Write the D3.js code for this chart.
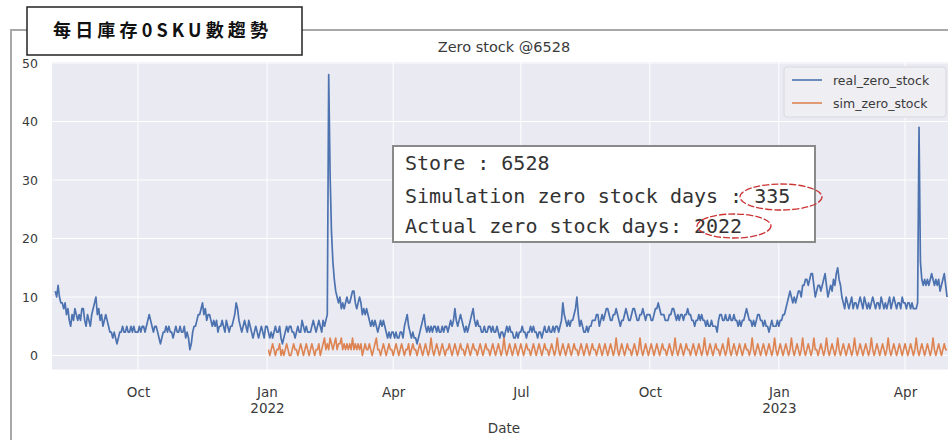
<!DOCTYPE html>
<html><head><meta charset="utf-8">
<script src="https://cdn.jsdelivr.net/npm/d3@7"></script>
<style>
html,body{margin:0;padding:0;background:#fff;}
svg{display:block;}
</style></head>
<body>
<svg id="chart" width="948" height="440"></svg>
<script>
// ---------------- DATA ----------------
const figureTitle = "每日庫存0SKU數趨勢";
const chartTitle = "Zero stock @6528";
const xLabel = "Date";
const seriesNames = ["real_zero_stock", "sim_zero_stock"];
const infoLines = ["Store : 6528", "Simulation zero stock days : 335", "Actual zero stock days: 2022"];
const yTicks = [0, 10, 20, 30, 40, 50];
const xTickDates = ["2021-10-01", "2022-01-01", "2022-04-01", "2022-07-01", "2022-10-01", "2023-01-01", "2023-04-01"];

// real_zero_stock, daily from 2021-08-03
const realStart2021 = "2021-08-03";
const realZero2021 = [
 11,10,12,10,9,9,8,9,7,8, 6,5,7,6,8,7,6,7,6,8, 8,6,5,7,6,5,7,8,9,
 10,7,8,6,7,5,6,7,6,5, 4,4,3,4,3,2,3,4,4,5, 4,4,5,4,4,5,4,5,4,4,
 4,5,4,5,5,4,5,6,7,6, 5,4,5,5,4,3,2,3,4,4, 5,4,5,4,4,3,4,5,4,4, 5,
 4,4,5,3,4,3,1,2,4,5, 5,6,7,7,8,9,7,8,6,7, 7,6,5,6,5,6,4,5,5,6,
 5,4,6,5,4,5,5,6,7,9, 8,6,5,4,5,6,5,4,6,5, 4,3,4,5,4,3,4,5,4,3, 5
];
const realStart2022 = "2022-01-01";
const realZero2022 = [
 5,4,3,4,3,4,5,4,4,5, 3,2,3,4,5,4,5,5,4,4, 3,4,5,4,4,6,5,4,5,4, 4,
 4,5,6,5,4,5,6,5,4,6, 5,6,7,48,31,21,16,13,11,10, 9,10,8,9,8,9,10,9,
 9,10,11,11,9,8,9,10,9,7, 8,7,8,7,6,5,6,5,6,5, 4,5,6,5,6,5,4,3,4,3, 4,
 4,3,4,3,3,4,4,3,5,6, 7,5,4,3,4,3,3,2,3,4, 5,6,7,5,4,5,4,5,4,5,
 5,4,5,4,4,5,4,5,5,4, 5,6,5,6,8,6,5,6,7,6, 5,4,5,4,5,6,7,8,6,5, 6,
 5,5,4,4,5,4,4,5,5,4, 5,4,4,5,4,3,4,4,3,4, 5,4,5,4,4,3,3,4,3,4,
 4,5,4,4,3,4,4,5,4,5, 4,4,3,4,4,3,4,5,4,4, 5,4,4,5,4,5,5,4,5,6, 9,
 7,6,5,6,5,6,6,7,8,10, 7,5,6,5,4,4,5,4,5,5, 6,6,6,7,7,5,6,7,6,7, 8,
 8,7,6,6,7,7,8,7,6,5, 6,6,7,8,7,6,6,7,8,8, 7,6,6,7,7,8,7,6,7,7,
 7,6,6,7,8,8,9,8,7,7, 7,6,6,6,7,7,8,8,7,6, 7,6,7,7,6,7,7,8,7,7, 6,
 6,5,6,6,7,6,7,6,6,5, 6,5,5,6,5,5,5,4,6,7, 7,6,6,7,6,6,7,6,6,7,
 6,6,5,6,5,6,6,7,8,7, 6,6,5,6,5,6,7,7,6,6, 5,6,5,5,4,5,6,5,5,5, 6
];
const realStart2023 = "2023-01-01";
const realZero2023 = [
 5,6,6,7,7,8,9,10,11,10, 9,10,9,10,11,11,10,12,12,13, 13,12,13,14,14,12,10,11,12,12, 11,
 12,13,14,12,10,11,12,11,13,12, 14,15,13,12,10,9,8,10,9,8, 9,10,8,9,9,8,9,10,
 9,8,10,9,8,9,8,9,10,9, 8,9,9,8,10,9,8,9,8,9, 10,8,9,10,9,8,9,9,8,10, 9,
 9,8,9,9,8,9,8,8,8,9, 39,16,13,12,13,12,13,12,13,14, 13,12,13,12,13,11,12,13,14,12,
 10
];

// sim_zero_stock, daily from 2022-01-02
const simStart2022 = "2022-01-02";
const simZero2022 = [
 1,0,1,2,1,0,1,1,2,0, 1,0,1,2,1,0,0,1,2,1, 1,0,1,2,1,0,1,2,1,0,
 1,2,1,0,1,1,2,0,1,2, 3,1,2,1,3,2,1,2,3,1, 2,2,3,1,2,1,2,1,
 2,1,3,1,2,1,2,1,2,0, 1,2,1,1,2,1,0,1,2,3, 1,1,0,1,2,1,0,1,2,1, 1,
 0,1,2,1,0,1,2,1,0,1, 1,2,0,1,2,1,1,0,1,2, 1,0,1,2,1,0,1,3,1,0,
 1,2,1,0,1,2,1,0,1,1, 2,1,0,1,2,1,0,1,2,1, 1,0,1,2,1,0,1,2,1,1, 0,
 1,2,1,0,1,2,1,1,0,1, 2,1,0,1,2,1,0,1,3,1, 0,1,2,1,0,1,2,1,0,1,
 2,1,0,1,2,1,1,0,1,2, 1,0,1,2,1,0,1,2,1,1, 0,1,2,1,0,1,3,1,0,1, 2,
 1,0,1,2,1,0,1,2,1,1, 0,1,2,1,0,1,2,1,0,1, 2,1,1,0,1,2,1,0,1,2, 1,
 0,1,2,1,0,1,3,1,0,1, 2,1,0,1,2,1,1,0,1,2, 1,0,1,3,1,0,1,2,1,0,
 1,2,1,0,1,2,1,0,1,2, 1,1,0,1,2,1,0,1,3,1, 0,1,2,1,0,1,2,1,1,0, 1,
 2,1,0,1,2,1,0,1,3,1, 0,1,2,1,0,1,2,1,1,0, 1,2,1,0,1,3,1,0,1,2,
 1,0,1,2,1,0,1,2,1,1, 0,1,3,1,0,1,2,1,0,1, 2,1,0,1,2,1,0,1,3,1, 0
];
const simStart2023 = "2023-01-01";
const simZero2023 = [
 1,2,1,0,1,2,1,0,1,3, 1,0,1,2,1,0,1,3,1,0, 1,2,1,0,1,3,1,1,0,1, 2,
 1,0,1,3,1,0,1,2,1,0, 1,3,1,0,1,2,1,0,1,2, 1,0,1,3,1,0,1,2,
 1,0,1,2,1,0,1,3,1,0, 1,2,1,0,1,2,1,0,1,3, 1,0,1,2,1,0,1,2,1,0, 1,
 2,1,0,1,2,1,0,1,3,1, 0,1,2,1,0,1,2,1,0,1, 3,1,0,1,2,1,0,1,2,1,
 1
];

// ---------------- BUILD ----------------
const parse = d3.timeParse("%Y-%m-%d");
function daily(startStr, arr) {
  const s = parse(startStr);
  return arr.map((v, i) => ({ date: d3.timeDay.offset(s, i), value: v }));
}
const realData = [].concat(
  daily(realStart2021, realZero2021),
  daily(realStart2022, realZero2022),
  daily(realStart2023, realZero2023));
const simData = [].concat(
  daily(simStart2022, simZero2022),
  daily(simStart2023, simZero2023));

const colors = ["#4C72B0", "#DD8452"];
const svg = d3.select("#chart");
const textCol = "#3a3a3a";

const plot = { left: 52, right: 956, top: 62, bottom: 369.5 };

const x = d3.scaleTime()
  .domain([parse(xTickDates[0]), parse(xTickDates[xTickDates.length - 1])])
  .range([138, 905]);
const y = d3.scaleLinear().domain([0, 50]).range([355.5, 63]);

// outer frame
svg.append("path")
  .attr("d", "M11,441 L11,30 L960,30")
  .attr("fill", "none").attr("stroke", "#a8a8a8").attr("stroke-width", 2);

// plot background
svg.append("rect")
  .attr("x", plot.left).attr("y", plot.top)
  .attr("width", plot.right - plot.left).attr("height", plot.bottom - plot.top)
  .attr("fill", "#EAEAF2");

svg.append("clipPath").attr("id", "clip").append("rect")
  .attr("x", plot.left).attr("y", plot.top)
  .attr("width", plot.right - plot.left).attr("height", plot.bottom - plot.top);

// grid
const grid = svg.append("g");
grid.selectAll("line.h").data(yTicks).join("line")
  .attr("x1", plot.left).attr("x2", plot.right)
  .attr("y1", d => y(d)).attr("y2", d => y(d))
  .attr("stroke", "#fff").attr("stroke-width", 1);
grid.selectAll("line.v").data(xTickDates.map(parse)).join("line")
  .attr("y1", plot.top).attr("y2", plot.bottom)
  .attr("x1", d => x(d)).attr("x2", d => x(d))
  .attr("stroke", "#fff").attr("stroke-width", 1);

// axes
const yAxis = d3.axisLeft(y).tickValues(yTicks).tickSize(0).tickPadding(14);
const gy = svg.append("g").attr("transform", `translate(${plot.left},0)`).call(yAxis);
gy.select(".domain").remove();
gy.selectAll("text").attr("fill", textCol).attr("font-family", "DejaVu Sans").attr("font-size", 12.5);

const monthFmt = d3.timeFormat("%b");
const xAxis = d3.axisBottom(x).tickValues(xTickDates.map(parse)).tickSize(0).tickPadding(18)
  .tickFormat(monthFmt);
const gx = svg.append("g").attr("transform", `translate(0,${plot.bottom})`).call(xAxis);
gx.select(".domain").remove();
gx.selectAll("text").attr("fill", textCol).attr("font-family", "DejaVu Sans").attr("font-size", 13.5);
gx.selectAll(".tick").each(function(d) {
  if (d.getMonth() === 0) {
    d3.select(this).select("text").append("tspan")
      .attr("x", 0).attr("dy", "1.15em").text(d.getFullYear());
  }
});

// lines
const line = d3.line().x(d => x(d.date)).y(d => y(d.value));
const lg = svg.append("g").attr("clip-path", "url(#clip)");
lg.append("path").datum(realData).attr("d", line)
  .attr("fill", "none").attr("stroke", colors[0]).attr("stroke-width", 1.7).attr("stroke-linejoin", "round");
lg.append("path").datum(simData).attr("d", line)
  .attr("fill", "none").attr("stroke", colors[1]).attr("stroke-width", 1.6).attr("stroke-linejoin", "round");

// chart title
const cx = (plot.left + plot.right) / 2;
svg.append("text").attr("x", cx).attr("y", 52).attr("text-anchor", "middle")
  .attr("font-family", "DejaVu Sans").attr("font-size", 14.5).attr("fill", textCol).text(chartTitle);

// x label
svg.append("text").attr("x", cx).attr("y", 433).attr("text-anchor", "middle")
  .attr("font-family", "DejaVu Sans").attr("font-size", 13.5).attr("fill", textCol).text(xLabel);

// legend
const leg = svg.append("g");
leg.append("rect").attr("x", 784).attr("y", 67).attr("width", 162).attr("height", 50).attr("rx", 3)
  .attr("fill", "#EEEEF3").attr("stroke", "#D8D8DE");
seriesNames.forEach((n, i) => {
  const yy = 80 + i * 23;
  leg.append("line").attr("x1", 792).attr("x2", 822).attr("y1", yy).attr("y2", yy)
    .attr("stroke", colors[i]).attr("stroke-width", 1.6);
  leg.append("text").attr("x", 833).attr("y", yy + 4.5)
    .attr("font-family", "DejaVu Sans").attr("font-size", 12.5).attr("fill", textCol).text(n);
});

// info box
svg.append("rect").attr("x", 393).attr("y", 146).attr("width", 422).attr("height", 96)
  .attr("fill", "#fff").attr("stroke", "#8a8a8a").attr("stroke-width", 2);
infoLines.forEach((t, i) => {
  svg.append("text").attr("x", 405).attr("y", [170, 203, 233][i])
    .attr("font-family", "DejaVu Sans Mono").attr("font-size", 20).attr("fill", "#333")
    .style("white-space", "pre").text(t);
});
// red hand-drawn ellipses
svg.append("ellipse").attr("cx", 781).attr("cy", 197).attr("rx", 41).attr("ry", 13)
  .attr("fill", "none").attr("stroke", "#cc3333").attr("stroke-width", 1.3).attr("stroke-dasharray", "7 2");
svg.append("ellipse").attr("cx", 734).attr("cy", 226).attr("rx", 37).attr("ry", 12)
  .attr("fill", "none").attr("stroke", "#cc3333").attr("stroke-width", 1.3).attr("stroke-dasharray", "7 2");

// figure title box
svg.append("rect").attr("x", 27).attr("y", 7).attr("width", 275).attr("height", 48)
  .attr("fill", "#fff").attr("stroke", "#222").attr("stroke-width", 1.5);
svg.append("text").attr("x", 53).attr("y", 37)
  .attr("font-family", "'Noto Sans CJK TC', 'Noto Sans CJK SC', sans-serif").attr("font-weight", 700)
  .attr("font-size", 18).attr("fill", "#111")
  .attr("textLength", 215).attr("lengthAdjust", "spacing").text(figureTitle);
</script>
</body></html>
